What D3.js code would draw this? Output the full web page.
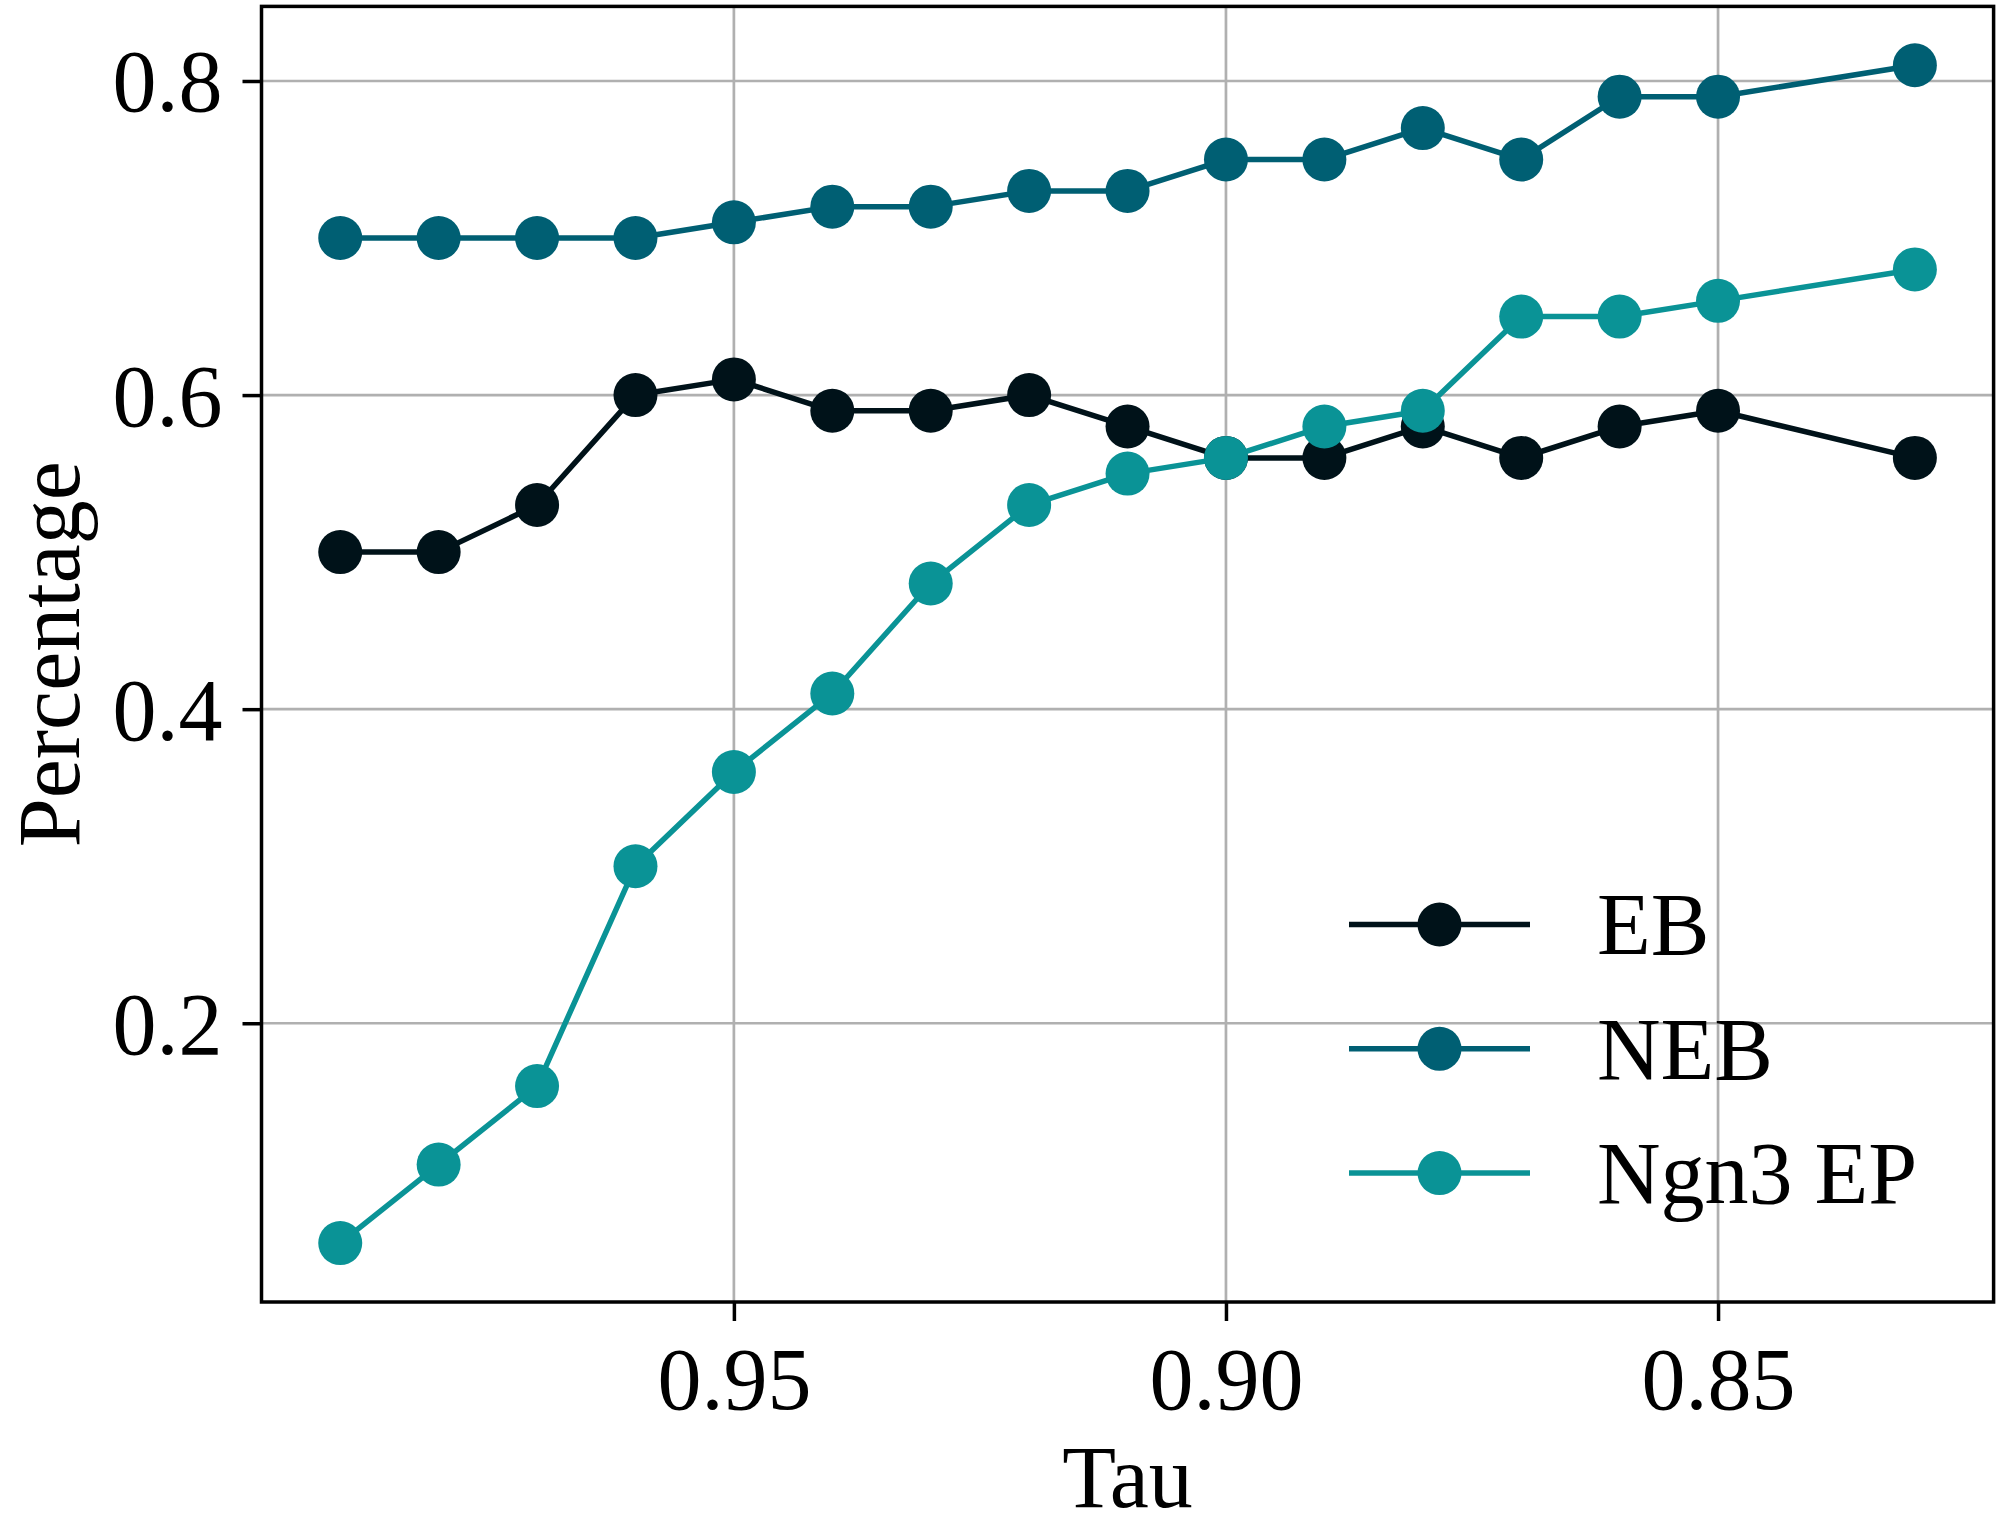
<!DOCTYPE html>
<html>
<head>
<meta charset="utf-8">
<script src="https://cdn.jsdelivr.net/npm/d3@7"></script>
<style>
	body { margin: 0; background: #fff; }
	svg { display: block; }
	text { font-family: "Liberation Serif", "Times New Roman", serif; fill: #000; }
</style>
</head>
<body>
<svg id="chart" width="2000" height="1532"></svg>
<script>
	var tau = [0.99, 0.98, 0.97, 0.96, 0.95, 0.94, 0.93, 0.92, 0.91, 0.90, 0.89, 0.88, 0.87, 0.86, 0.85, 0.83];
	var eb = [0.50, 0.50, 0.53, 0.60, 0.61, 0.59, 0.59, 0.60, 0.58, 0.56, 0.56, 0.58, 0.56, 0.58, 0.59, 0.56];
	var neb = [0.70, 0.70, 0.70, 0.70, 0.71, 0.72, 0.72, 0.73, 0.73, 0.75, 0.75, 0.77, 0.75, 0.79, 0.79, 0.81];
	var ngn3 = [0.06, 0.11, 0.16, 0.30, 0.36, 0.41, 0.48, 0.53, 0.55, 0.56, 0.58, 0.59, 0.65, 0.65, 0.66, 0.68];
	var seriesNames = ["EB", "NEB", "Ngn3 EP"];
	var seriesColors = ["#001219", "#005f73", "#0a9396"];
	var xTicks = [0.95, 0.90, 0.85];
	var yTicks = [0.2, 0.4, 0.6, 0.8];

	var box = {left: 261.5, right: 1993.6, top: 6.4, bottom: 1302};
	var fontSize = 88;

	var svg = d3.select("#chart");
	var series = [eb, neb, ngn3];

	// matplotlib style 5% margins
	var xmin = d3.min(tau), xmax = d3.max(tau);
	var allY = d3.merge(series);
	var ymin = d3.min(allY), ymax = d3.max(allY);
	var xpad = (xmax - xmin) * 0.05, ypad = (ymax - ymin) * 0.05;

	var x = d3.scaleLinear()
		.domain([xmax + xpad, xmin - xpad])
		.range([box.left, box.right]);
	var y = d3.scaleLinear()
		.domain([ymin - ypad, ymax + ypad])
		.range([box.bottom, box.top]);

	// grid
	var grid = svg.append("g").attr("stroke", "#b0b0b0").attr("stroke-width", 2.7);
	grid.selectAll(".gx").data(xTicks).enter().append("line")
		.attr("x1", function(d){ return x(d); })
		.attr("x2", function(d){ return x(d); })
		.attr("y1", box.top).attr("y2", box.bottom);
	grid.selectAll(".gy").data(yTicks).enter().append("line")
		.attr("y1", function(d){ return y(d); })
		.attr("y2", function(d){ return y(d); })
		.attr("x1", box.left).attr("x2", box.right);

	// lines + markers
	var line = d3.line()
		.x(function(d, i){ return x(tau[i]); })
		.y(function(d){ return y(d); });

	series.forEach(function(s, k){
		svg.append("path")
			.attr("d", line(s))
			.attr("fill", "none")
			.attr("stroke", seriesColors[k])
			.attr("stroke-width", 5.5)
			.attr("stroke-linejoin", "round");
		svg.append("g").selectAll("circle")
			.data(s)
			.enter().append("circle")
				.attr("cx", function(d, i){ return x(tau[i]); })
				.attr("cy", function(d){ return y(d); })
				.attr("r", 22)
				.attr("fill", seriesColors[k]);
	});

	// axes
	var xAxis = svg.append("g")
		.attr("transform", "translate(0," + box.bottom + ")")
		.call(d3.axisBottom(x).tickValues(xTicks).tickFormat(d3.format(".2f")).tickSize(19).tickPadding(26));
	var yAxis = svg.append("g")
		.attr("transform", "translate(" + box.left + ",0)")
		.call(d3.axisLeft(y).tickValues(yTicks).tickFormat(d3.format(".1f")).tickSize(19).tickPadding(20));

	[xAxis, yAxis].forEach(function(a){
		a.select(".domain").remove();
		a.selectAll(".tick line").attr("stroke", "#000").attr("stroke-width", 3.5);
		a.selectAll(".tick text")
			.style("font-size", fontSize + "px")
			.style("font-family", "'Liberation Serif', serif")
			.attr("fill", "#000");
	});
	xAxis.selectAll(".tick text").attr("dy", "0.71em");
	yAxis.selectAll(".tick text").attr("dy", "0.34em");

	// frame
	svg.append("rect")
		.attr("x", box.left).attr("y", box.top)
		.attr("width", box.right - box.left).attr("height", box.bottom - box.top)
		.attr("fill", "none").attr("stroke", "#000").attr("stroke-width", 3.5);

	// axis labels
	svg.append("text")
		.text("Tau")
		.attr("x", (box.left + box.right) / 2)
		.attr("y", 1507)
		.attr("text-anchor", "middle")
		.style("font-size", fontSize + "px");

	svg.append("text")
		.text("Percentage")
		.attr("transform", "translate(79," + (box.top + box.bottom) / 2 + ") rotate(-90)")
		.attr("text-anchor", "middle")
		.style("font-size", fontSize + "px");

	// legend
	var legend = svg.append("g")
		.selectAll("g")
		.data(seriesNames)
		.enter().append("g")
			.attr("transform", function(d, i){ return "translate(1349," + (924.5 + i * 124.3) + ")"; });

	legend.append("line")
		.attr("x1", 0).attr("x2", 181)
		.attr("stroke", function(d, i){ return seriesColors[i]; })
		.attr("stroke-width", 5.5);
	legend.append("circle")
		.attr("cx", 90.5).attr("r", 22)
		.attr("fill", function(d, i){ return seriesColors[i]; });
	legend.append("text")
		.attr("x", 248)
		.attr("dy", "0.34em")
		.style("font-size", fontSize + "px")
		.text(function(d){ return d; });
</script>
</body>
</html>
